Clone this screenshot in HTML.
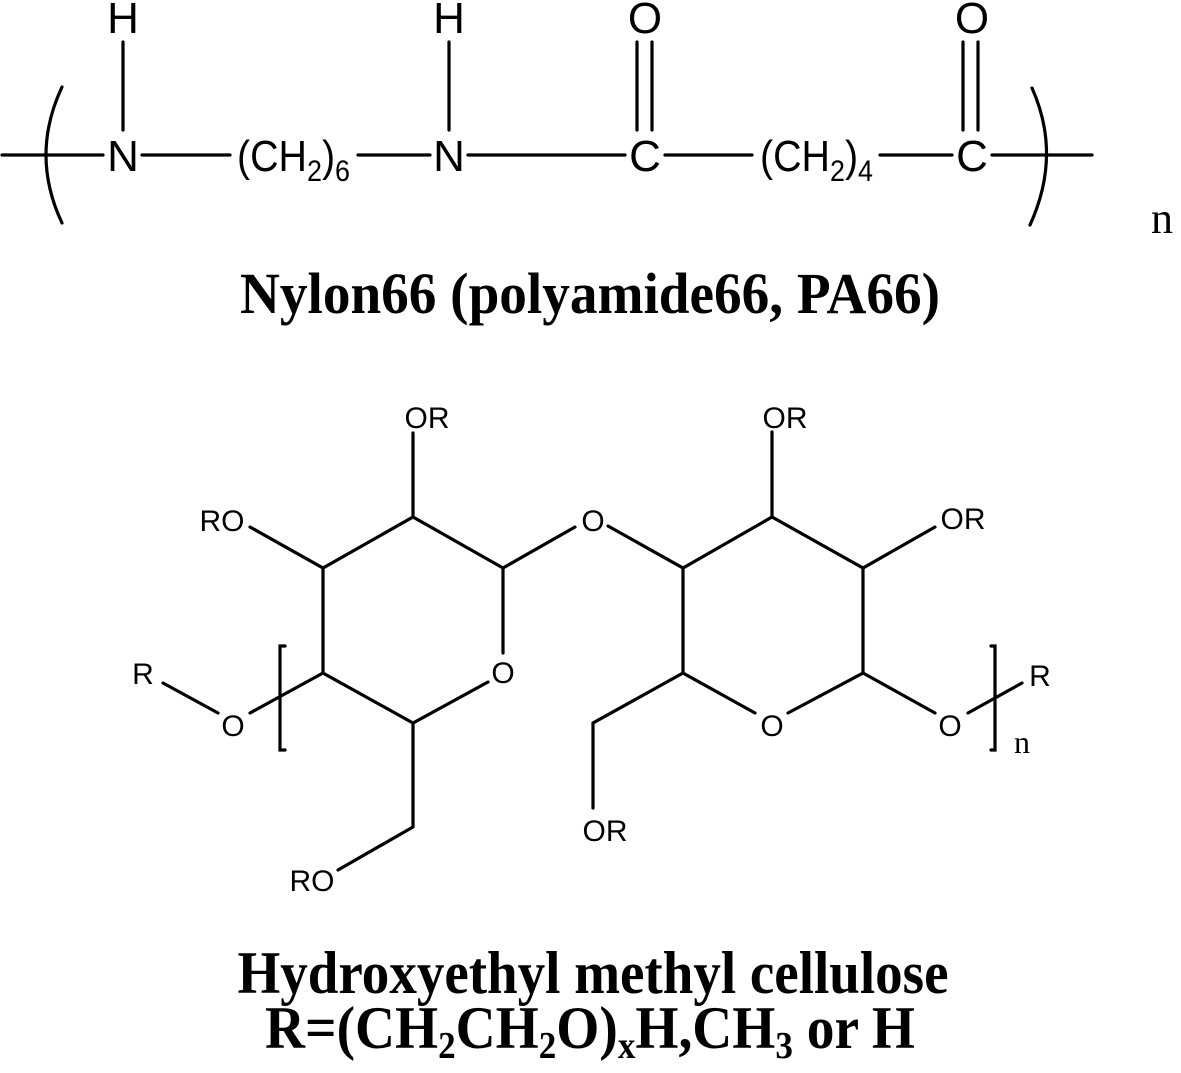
<!DOCTYPE html>
<html><head><meta charset="utf-8"><style>html,body{margin:0;padding:0;background:#fff}svg{display:block}</style></head>
<body>
<svg width="1181" height="1073" viewBox="0 0 1181 1073" xmlns="http://www.w3.org/2000/svg">
<g stroke="#000" stroke-width="3.2" fill="none" stroke-linecap="round">
<line x1="2" y1="155" x2="103" y2="155"/>
<path d="M62 87 Q30 155 62 223"/>
<line x1="123" y1="42" x2="123" y2="130"/>
<line x1="142" y1="155" x2="230" y2="155"/>
<line x1="358" y1="155" x2="430" y2="155"/>
<line x1="449" y1="42" x2="449" y2="130"/>
<line x1="468" y1="155" x2="625" y2="155"/>
<line x1="637" y1="42" x2="637" y2="130"/>
<line x1="652" y1="42" x2="652" y2="130"/>
<line x1="665" y1="155" x2="752" y2="155"/>
<line x1="880" y1="155" x2="952" y2="155"/>
<line x1="963" y1="42" x2="963" y2="130"/>
<line x1="978" y1="42" x2="978" y2="130"/>
<line x1="992" y1="155" x2="1092" y2="155"/>
<path d="M1032 88 Q1062 155 1030 225"/>
<polyline points="250,527 323,568 413,517 503,568 503,653"/>
<line x1="413" y1="517" x2="413" y2="433"/>
<polyline points="323,568 323,673 413,723 488,682"/>
<polyline points="503,568 575,527"/>
<polyline points="163,683 218,713"/>
<polyline points="250,713 323,673"/>
<polyline points="413,723 413,827 338,870"/>
<polyline points="285,646 280,646 280,750 285,750"/>
<polyline points="608,526 683,568 772,517 863,568 935,527"/>
<line x1="772" y1="517" x2="772" y2="432"/>
<polyline points="683,568 683,673 755,713"/>
<polyline points="863,568 863,673 788,713"/>
<polyline points="863,673 935,713"/>
<polyline points="968,713 1022,683"/>
<polyline points="683,673 593,723 593,808"/>
<polyline points="991,646 995,646 995,750 991,750"/>
</g>
<g font-family="Liberation Sans, sans-serif" font-size="44" text-anchor="middle" fill="#000">
<text x="123" y="33">H</text>
<text x="123" y="171">N</text>
<text x="449" y="33">H</text>
<text x="449" y="171">N</text>
<text x="645" y="33">O</text>
<text x="645" y="171">C</text>
<text x="972" y="33">O</text>
<text x="972" y="171">C</text>
<text x="237" y="171" text-anchor="start" textLength="113" lengthAdjust="spacingAndGlyphs">(CH<tspan font-size="30" dy="10">2</tspan><tspan dy="-10">)</tspan><tspan font-size="30" dy="10">6</tspan></text>
<text x="760" y="171" text-anchor="start" textLength="113" lengthAdjust="spacingAndGlyphs">(CH<tspan font-size="30" dy="10">2</tspan><tspan dy="-10">)</tspan><tspan font-size="30" dy="10">4</tspan></text>
</g>
<text x="1162" y="233" font-family="Liberation Serif, serif" font-size="44" text-anchor="middle">n</text>
<text x="590" y="313" font-family="Liberation Serif, serif" font-size="58" font-weight="bold" text-anchor="middle" textLength="700" lengthAdjust="spacingAndGlyphs">Nylon66 (polyamide66, PA66)</text>
<g font-family="Liberation Sans, sans-serif" font-size="30" text-anchor="middle" fill="#000">
<text x="427" y="428">OR</text>
<text x="222" y="531">RO</text>
<text x="593" y="531">O</text>
<text x="503" y="683">O</text>
<text x="143" y="684">R</text>
<text x="233" y="736">O</text>
<text x="312" y="891">RO</text>
<text x="785" y="428">OR</text>
<text x="963" y="529">OR</text>
<text x="772" y="736">O</text>
<text x="950" y="736">O</text>
<text x="1040" y="686">R</text>
<text x="605" y="841">OR</text>
</g>
<text x="1022" y="753" font-family="Liberation Serif, serif" font-size="32" text-anchor="middle">n</text>
<text x="593" y="993" font-family="Liberation Serif, serif" font-size="60" font-weight="bold" text-anchor="middle" textLength="711" lengthAdjust="spacingAndGlyphs">Hydroxyethyl methyl cellulose</text>
<text x="590" y="1048" font-family="Liberation Serif, serif" font-size="60" font-weight="bold" text-anchor="middle" textLength="650" lengthAdjust="spacingAndGlyphs">R=(CH<tspan font-size="38" dy="10">2</tspan><tspan dy="-10">CH</tspan><tspan font-size="38" dy="10">2</tspan><tspan dy="-10">O)</tspan><tspan font-size="38" dy="10">x</tspan><tspan dy="-10">H,CH</tspan><tspan font-size="38" dy="10">3</tspan><tspan dy="-10"> or H</tspan></text>
</svg>
</body></html>
